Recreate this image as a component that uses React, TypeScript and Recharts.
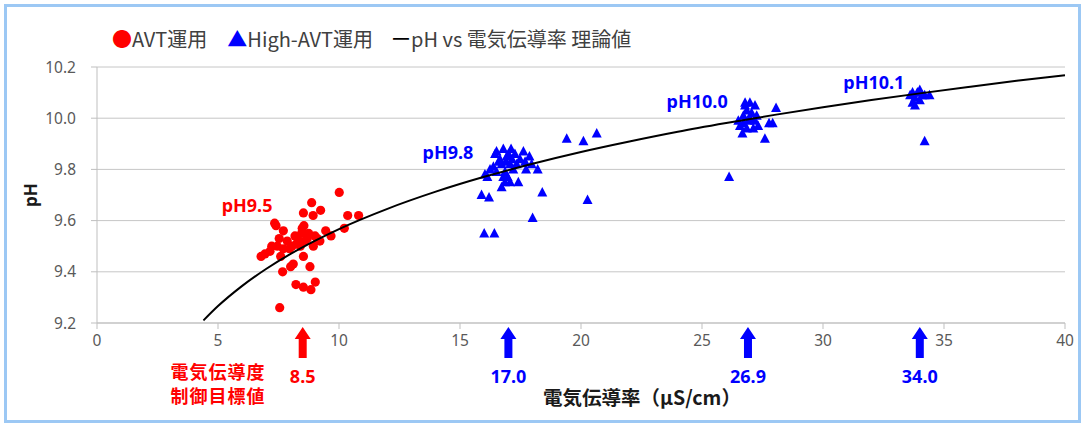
import React from 'react';
import { ScatterChart, Scatter, XAxis, YAxis, CartesianGrid, ReferenceDot } from 'recharts';

// AVT運用 (red circles)
const avtConductivity = [10.01, 8.87, 8.53, 8.93, 9.24, 10.36, 10.81, 7.34, 7.40, 7.70, 8.48, 10.22, 9.45, 8.18, 7.53, 9.01, 9.67, 8.69, 7.86, 8.33, 9.21, 7.22, 7.70, 8.06, 8.94, 6.94, 6.78, 7.59, 8.53, 8.11, 8.00, 8.80, 7.67, 9.02, 8.22, 8.53, 8.84, 7.55, 8.25, 8.45, 8.60, 8.75, 8.40, 9.10, 8.55, 7.95, 7.15, 7.45];
const avtPH = [9.71, 9.67, 9.63, 9.62, 9.64, 9.62, 9.62, 9.59, 9.58, 9.56, 9.57, 9.57, 9.56, 9.54, 9.53, 9.54, 9.54, 9.53, 9.52, 9.52, 9.52, 9.50, 9.49, 9.50, 9.50, 9.47, 9.46, 9.46, 9.46, 9.43, 9.42, 9.42, 9.40, 9.36, 9.35, 9.34, 9.33, 9.26, 9.51, 9.55, 9.52, 9.55, 9.50, 9.53, 9.58, 9.49, 9.48, 9.50];

// High-AVT運用 (blue triangles)
const highConductivity = [19.41, 20.10, 20.65, 20.27, 18.40, 18.00, 16.00, 16.42, 15.89, 16.20, 18.21, 17.73, 17.41, 16.72, 16.86, 17.07, 16.03, 16.13, 16.51, 16.79, 17.11, 17.62, 17.87, 16.65, 16.93, 17.27, 17.48, 16.38, 16.72, 17.07, 17.34, 17.69, 16.51, 16.86, 17.20, 16.79, 16.97, 16.24, 16.45, 17.96, 16.90, 17.15, 17.00, 16.60,
  26.12, 28.06, 27.77, 27.92, 27.60, 26.67, 27.12, 26.78, 26.98, 27.19, 26.85, 27.05, 26.71, 27.26, 26.50, 26.71, 26.91, 27.19, 26.57, 26.85, 27.32, 26.98, 26.78,
  33.70, 34.00, 34.20, 33.80, 33.60, 34.00, 33.80, 34.40, 33.90, 34.10, 34.00, 33.70, 34.20];
const highPH = [9.92, 9.91, 9.94, 9.68, 9.71, 9.61, 9.55, 9.55, 9.70, 9.69, 9.80, 9.80, 9.75, 9.73, 9.75, 9.75, 9.78, 9.77, 9.87, 9.88, 9.88, 9.87, 9.85, 9.84, 9.85, 9.86, 9.84, 9.81, 9.82, 9.82, 9.82, 9.83, 9.79, 9.79, 9.80, 9.77, 9.77, 9.80, 9.86, 9.82, 9.83, 9.84, 9.86, 9.83,
  9.77, 10.04, 9.98, 9.98, 9.92, 9.94, 9.96, 10.06, 10.06, 10.05, 10.03, 10.02, 10.01, 10.01, 9.99, 9.98, 9.99, 9.99, 9.97, 9.96, 9.97, 10.00, 10.05,
  10.10, 10.11, 10.09, 10.08, 10.09, 10.07, 10.05, 10.09, 10.10, 10.09, 10.10, 10.06, 9.91];

// pH vs 電気伝導率 理論値 (black curve)
const curveConductivity = [4.4, 5, 6, 7, 8, 9, 10, 12, 14, 16, 18, 20, 22, 24, 26, 28, 30, 32, 34, 36, 38, 40];
const curvePH = [9.21, 9.266, 9.345, 9.412, 9.47, 9.521, 9.567, 9.646, 9.713, 9.771, 9.822, 9.868, 9.909, 9.947, 9.981, 10.013, 10.043, 10.071, 10.097, 10.122, 10.146, 10.168];

const xTicks = [0, 5, 10, 15, 20, 25, 30, 35, 40];
const yTicks = [9.2, 9.4, 9.6, 9.8, 10.0, 10.2];

const targetConductivity = [8.5, 17.0, 26.9, 34.0];
const targetLabels = ['8.5', '17.0', '26.9', '34.0'];
const phLabels = ['pH9.5', 'pH9.8', 'pH10.0', 'pH10.1'];

const avtData = avtConductivity.map((x, i) => ({ x, y: avtPH[i] }));
const highData = highConductivity.map((x, i) => ({ x, y: highPH[i] }));
const curveData = curveConductivity.map((x, i) => ({ x, y: curvePH[i] }));

const RED = '#ff0000';
const BLUE = '#0000ff';
const FONT = '"Noto Sans", "Noto Sans CJK JP", sans-serif';
const JFONT = '"Noto Sans CJK JP", "Noto Sans", sans-serif';

const CircleShape = (p: any) => <circle cx={p.cx} cy={p.cy} r={4.6} fill={RED} />;
const TriShape = (p: any) => (
  <polygon points={`${p.cx},${p.cy - 5.5} ${p.cx + 5},${p.cy + 4} ${p.cx - 5},${p.cy + 4}`} fill={BLUE} />
);
const NoShape = () => <g />;

const makeArrow = (color: string, label: string) => (p: any) => {
  const cx = p.cx, cy = p.cy;
  return (
    <g>
      <polygon
        points={`${cx},${cy + 4} ${cx + 8},${cy + 16} ${cx + 4},${cy + 16} ${cx + 4},${cy + 35} ${cx - 4},${cy + 35} ${cx - 4},${cy + 16} ${cx - 8},${cy + 16}`}
        fill={color}
      />
      <text x={cx} y={cy + 53} textAnchor="middle" dominantBaseline="central" fill={color}
        fontFamily={FONT} fontWeight="bold" fontSize={18}>{label}</text>
    </g>
  );
};

const makeLabel = (color: string, label: string) => (p: any) => (
  <text x={p.cx} y={p.cy} textAnchor="middle" dominantBaseline="central" fill={color}
    fontFamily={FONT} fontWeight="bold" fontSize={18}>{label}</text>
);

const TargetNote = (p: any) => (
  <g>
    <text x={p.cx} y={p.cy + 48} textAnchor="middle" dominantBaseline="central" fill={RED}
      fontFamily={JFONT} fontWeight="bold" fontSize={18} letterSpacing={1}>電気伝導度</text>
    <text x={p.cx} y={p.cy + 72} textAnchor="middle" dominantBaseline="central" fill={RED}
      fontFamily={JFONT} fontWeight="bold" fontSize={18} letterSpacing={1}>制御目標値</text>
  </g>
);

const arrowColors = [RED, BLUE, BLUE, BLUE];
const labelColors = [RED, BLUE, BLUE, BLUE];
const labelAnchorX = [6.2, 14.5, 24.8, 32.1];
const labelAnchorY = [9.66, 9.868, 10.067, 10.141];

export default function App() {
  return (
    <div style={{ position: 'absolute', left: 0, top: 0, width: 1084, height: 426, background: '#fff', overflow: 'hidden' }}>
      <div style={{ position: 'absolute', left: 4, top: 4, width: 1077, height: 419, boxSizing: 'border-box', border: '3px solid #9cc8f4' }} />
      <div style={{ position: 'absolute', left: 112, top: 25, fontFamily: JFONT, fontSize: 20, color: '#404040', whiteSpace: 'nowrap', lineHeight: '28px' }}>
        <span style={{ color: RED }}>●</span>AVT運用
        <span style={{ marginLeft: 20, color: BLUE }}>▲</span>High-AVT運用
        <span style={{ marginLeft: 18, color: '#000' }}>ー</span>pH vs 電気伝導率 理論値
      </div>
      <div style={{ position: 'absolute', left: 0, top: 0 }}>
        <ScatterChart width={1084} height={426} margin={{ top: 67, right: 19, bottom: 0, left: 0 }}>
          <CartesianGrid horizontal vertical={false} stroke="#c6c6c6" strokeWidth={1} />
          <XAxis
            type="number"
            dataKey="x"
            domain={[0, 40]}
            ticks={xTicks}
            interval={0}
            height={103}
            tickSize={6}
            tickMargin={6}
            axisLine={{ stroke: '#bfbfbf' }}
            tickLine={{ stroke: '#bfbfbf' }}
            tick={{ fill: '#595959', fontSize: 15.5, fontFamily: FONT }}
            label={{
              content: (props: any) => {
                const vb = props.viewBox;
                return (
                  <text x={vb.x + 545} y={vb.y + 73} textAnchor="middle" dominantBaseline="central"
                    fill="#1a1a1a" fontFamily={JFONT} fontWeight="bold" fontSize={19.5}>電気伝導率（μS/cm）</text>
                );
              },
            }}
          />
          <YAxis
            type="number"
            dataKey="y"
            domain={[9.2, 10.2]}
            ticks={yTicks}
            interval={0}
            width={97}
            tickSize={6}
            tickMargin={15}
            axisLine={{ stroke: '#bfbfbf' }}
            tickLine={{ stroke: '#bfbfbf' }}
            tickFormatter={(v: number) => v.toFixed(1)}
            tick={{ fill: '#595959', fontSize: 15.5, fontFamily: FONT }}
            label={{
              content: (props: any) => {
                const vb = props.viewBox;
                const cx = vb.x + 30;
                const cy = vb.y + vb.height / 2;
                return (
                  <text x={cx} y={cy} textAnchor="middle" dominantBaseline="central"
                    transform={`rotate(-90, ${cx}, ${cy})`}
                    fill="#1a1a1a" fontFamily={FONT} fontWeight="bold" fontSize={17}>pH</text>
                );
              },
            }}
          />
          <Scatter name="AVT運用" data={avtData} shape={CircleShape} isAnimationActive={false} />
          <Scatter name="High-AVT運用" data={highData} shape={TriShape} isAnimationActive={false} />
          <Scatter
            name="pH vs 電気伝導率 理論値"
            data={curveData}
            shape={NoShape}
            line={{ stroke: '#000', strokeWidth: 2 }}
            lineJointType="monotoneX"
            isAnimationActive={false}
          />
          {targetConductivity.map((v, i) => (
            <ReferenceDot key={`a${i}`} x={v} y={9.2} ifOverflow="visible" shape={makeArrow(arrowColors[i], targetLabels[i])} />
          ))}
          <ReferenceDot x={5} y={9.2} ifOverflow="visible" shape={TargetNote} />
          {phLabels.map((t, i) => (
            <ReferenceDot key={`l${i}`} x={labelAnchorX[i]} y={labelAnchorY[i]} ifOverflow="visible" shape={makeLabel(labelColors[i], t)} />
          ))}
        </ScatterChart>
      </div>
    </div>
  );
}
